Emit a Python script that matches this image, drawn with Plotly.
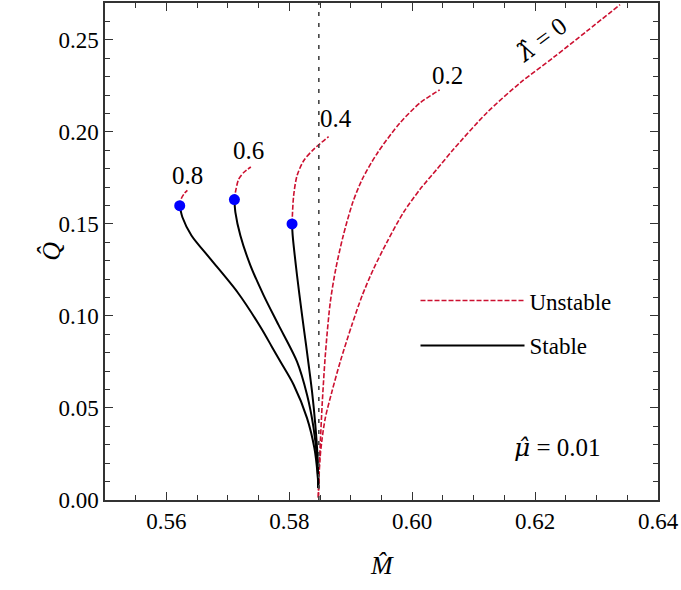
import plotly.graph_objects as go

FONT = "Liberation Serif"
GREEK = "DejaVu Serif"
RED = "#CC1030"

# vertical reference line  (M of the extremal case)
m_ref = 0.5848

# lambda = 0.8
m_s08 = [0.58472, 0.58460, 0.58407, 0.58288, 0.58070, 0.57854, 0.57715, 0.57545,
         0.57154, 0.56715, 0.56407, 0.56260, 0.56216]
q_s08 = [0.0066, 0.0139, 0.0283, 0.0445, 0.0626, 0.0752, 0.0833, 0.0932,
         0.1130, 0.1310, 0.1437, 0.1536, 0.1599]
m_u08 = [0.56216, 0.56244, 0.56293, 0.56341]
q_u08 = [0.1599, 0.1639, 0.1666, 0.1682]

# lambda = 0.6
m_s06 = [0.58472, 0.58450, 0.58395, 0.58288, 0.58125, 0.57826, 0.57582,
         0.57366, 0.57203, 0.57122, 0.57106]
q_s06 = [0.0066, 0.0229, 0.0391, 0.0572, 0.0752, 0.0950, 0.1112,
         0.1275, 0.1437, 0.1563, 0.1632]
m_u06 = [0.57106, 0.57122, 0.57176, 0.57257, 0.57374]
q_u06 = [0.1632, 0.1671, 0.1743, 0.1779, 0.1809]

# lambda = 0.4
m_s04 = [0.58472, 0.58460, 0.58423, 0.58369, 0.58276, 0.58207, 0.58125, 0.58054, 0.58044]
q_s04 = [0.0066, 0.0229, 0.0409, 0.0590, 0.0833, 0.1004, 0.1221, 0.1439, 0.1500]
m_u04 = [0.58044, 0.58070, 0.58125, 0.58233, 0.58395, 0.58639]
q_u04 = [0.1500, 0.1653, 0.1761, 0.1843, 0.1905, 0.1974]

# lambda = 0.2 (unstable only)
m_u02 = [0.58472, 0.58481, 0.58498, 0.58537, 0.58590, 0.58667, 0.58756, 0.58878,
         0.59033, 0.59187, 0.59439, 0.59805, 0.60130, 0.60447]
q_u02 = [0.0016, 0.0130, 0.0265, 0.0535, 0.0806, 0.1076, 0.1256, 0.1437,
         0.1617, 0.1743, 0.1888, 0.2050, 0.2158, 0.2228]

# lambda = 0 (unstable only)
m_u00 = [0.58472, 0.58496, 0.58528, 0.58585, 0.58694, 0.58829, 0.59024, 0.59187,
         0.59371, 0.59589, 0.59859, 0.60130, 0.60402, 0.60672, 0.61215, 0.61756,
         0.62298, 0.62841, 0.63382]
q_u00 = [0.0011, 0.0211, 0.0319, 0.0445, 0.0590, 0.0752, 0.0957, 0.1112,
         0.1256, 0.1401, 0.1563, 0.1689, 0.1797, 0.1905, 0.2104, 0.2266,
         0.2404, 0.2547, 0.2691]

stable = [(m_s08, q_s08), (m_s06, q_s06), (m_s04, q_s04)]
unstable = [(m_u08, q_u08), (m_u06, q_u06), (m_u04, q_u04), (m_u02, q_u02), (m_u00, q_u00)]

# curve labels: text, M, Q
labels = ["0.8", "0.6", "0.4", "0.2"]
label_m = [0.5635, 0.5733, 0.5876, 0.6058]
label_q = [0.1763, 0.1898, 0.2075, 0.2304]

fig = go.Figure()

for i, (m, q) in enumerate(unstable):
    fig.add_trace(go.Scatter(
        x=m, y=q, mode="lines", name="Unstable",
        line=dict(color=RED, width=1.6, dash="5px,2px", shape="spline", smoothing=0.8),
        showlegend=(i == 0), legendgroup="u", legendrank=1,
    ))

for i, (m, q) in enumerate(stable):
    fig.add_trace(go.Scatter(
        x=m, y=q, mode="lines", name="Stable",
        line=dict(color="black", width=2, shape="spline", smoothing=0.8),
        showlegend=(i == 0), legendgroup="s", legendrank=2,
    ))

# turning points (end of stable branch)
fig.add_trace(go.Scatter(
    x=[s[0][-1] for s in stable], y=[s[1][-1] for s in stable],
    mode="markers", marker=dict(color="#0000FF", size=11),
    showlegend=False,
))

fig.add_vline(x=m_ref, line=dict(color="#444444", width=1.6, dash="4px,7px"))

for t, xm, yq in zip(labels, label_m, label_q):
    fig.add_annotation(x=xm, y=yq, text=t, showarrow=False,
                       font=dict(family=FONT, size=25, color="black"))

fig.add_annotation(
    x=0.6210, y=0.2504, showarrow=False, textangle=-37,
    text=f"<span style=\"font-family:'{GREEK}'\"><i>λ\u0302</i></span> = 0",
    font=dict(family=FONT, size=25, color="black"))
fig.add_annotation(
    x=0.6236, y=0.0287, showarrow=False,
    text=f"<span style=\"font-family:'{GREEK}'\"><i>μ\u0302</i></span> = 0.01",
    font=dict(family=FONT, size=25, color="black"))

# axis titles
fig.add_annotation(x=0.5, y=-0.1325, xref="paper", yref="paper", showarrow=False,
                   xanchor="center", yanchor="middle",
                   text="<i>M\u0302</i>", font=dict(family=FONT, size=26, color="black"))
fig.add_annotation(x=-0.097, y=0.5, xref="paper", yref="paper", showarrow=False,
                   xanchor="center", yanchor="middle",
                   textangle=-90, text="<i>Q\u0302</i>",
                   font=dict(family=FONT, size=26, color="black"))

axis_common = dict(
    showgrid=False, zeroline=False, showline=True, linecolor="#333333", linewidth=1.5,
    mirror="allticks", ticks="inside", ticklen=8, tickwidth=1.3, tickcolor="#333333",
    tickfont=dict(family=FONT, size=23, color="black"), tickformat=".2f",
)

fig.update_xaxes(
    range=[0.55, 0.64], tick0=0.56, dtick=0.02, ticklabelstandoff=0,
    minor=dict(ticks="inside", dtick=0.005, tick0=0.56, ticklen=5, tickcolor="#333333"),
    **axis_common,
)
fig.update_yaxes(
    range=[0, 0.27], tick0=0, dtick=0.05, ticklabelstandoff=0,
    minor=dict(ticks="inside", dtick=0.01, tick0=0, ticklen=5, tickcolor="#333333"),
    **axis_common,
)

fig.update_layout(
    width=681, height=590,
    margin=dict(l=105, r=23, t=1, b=90),
    plot_bgcolor="white", paper_bgcolor="white",
    font=dict(family=FONT, color="black"),
    legend=dict(x=0.5615, y=0.356, xanchor="left", yanchor="middle",
                bgcolor="rgba(0,0,0,0)", font=dict(family=FONT, size=23),
                itemwidth=104, tracegroupgap=12),
)

# the page body has a default 8px margin; drop it so the figure sits at the corner
fig.write_html("out.html", config={"displayModeBar": False},
               post_script="document.body.style.margin='0';")
